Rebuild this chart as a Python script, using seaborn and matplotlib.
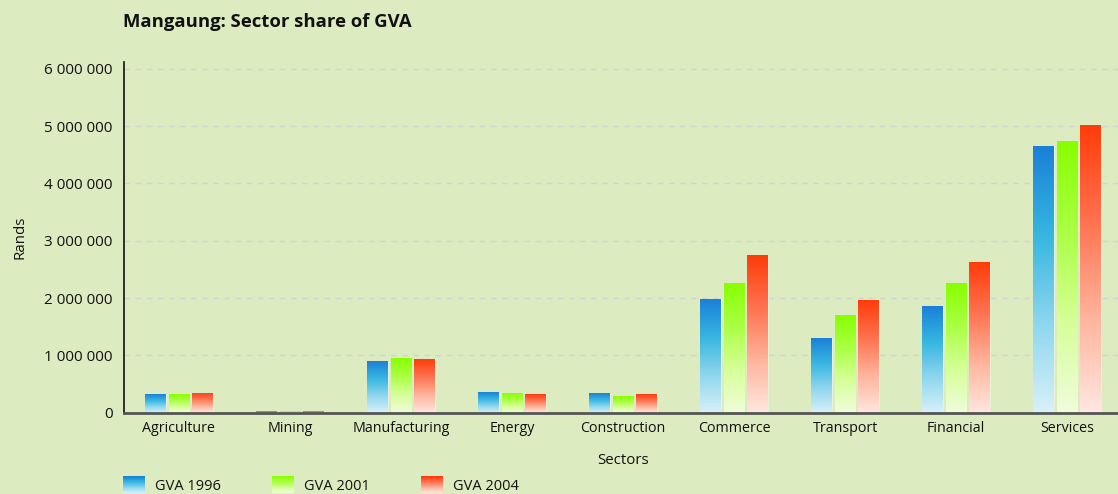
import numpy as np
import pandas as pd
import matplotlib
matplotlib.use("Agg")
import matplotlib.pyplot as plt
import seaborn as sns
from matplotlib.colors import LinearSegmentedColormap, to_hex
from matplotlib.patches import Rectangle, Patch
from matplotlib.legend_handler import HandlerBase
from matplotlib.ticker import FuncFormatter

# ---------------- data ----------------
sectors = ["Agriculture", "Mining", "Manufacturing", "Energy", "Construction",
           "Commerce", "Transport", "Financial", "Services"]
series_names = ["GVA 1996", "GVA 2001", "GVA 2004"]
gva_1996 = [330000, 28000, 900000, 362000, 348000, 1980000, 1307000, 1860000, 4647000]
gva_2001 = [330000, 22000, 957000, 344000, 290000, 2255000, 1707000, 2260000, 4735000]
gva_2004 = [350000, 25000, 940000, 327000, 325000, 2755000, 1958000, 2625000, 5013000]
y_ticks = [0, 1000000, 2000000, 3000000, 4000000, 5000000, 6000000]

title = "Mangaung: Sector share of GVA"
x_label = "Sectors"
y_label = "Rands"

# ---------------- style ----------------
BG = "#ddebc0"
base_colors = ["#1b80d8", "#88ff00", "#ff3c0a"]
gradients = [
    LinearSegmentedColormap.from_list("b", ["#d8f1f9", "#8fd6ee", "#36b6e0", "#1b80d8"]),
    LinearSegmentedColormap.from_list("g", ["#f0fcdc", "#d6ff98", "#aaff44", "#88ff00"]),
    LinearSegmentedColormap.from_list("r", ["#ffe7df", "#ffb49c", "#ff7250", "#ff3c0a"]),
]

sns.set_theme(style="white")
plt.rcParams["font.family"] = ["Open Sans", "DejaVu Sans"]
plt.rcParams["text.color"] = "#111111"

df = pd.DataFrame({
    "Sector": sectors * 3,
    "Rands": gva_1996 + gva_2001 + gva_2004,
    "Series": [series_names[0]] * 9 + [series_names[1]] * 9 + [series_names[2]] * 9,
})

fig = plt.figure(figsize=(11.18, 4.94), dpi=100, facecolor=BG)
W, H = 1118, 494
ax = fig.add_axes([123.5 / W, (H - 412.7) / H, 999 / W, (412.7 - 62) / H])
ax.set_facecolor(BG)

sns.barplot(data=df, x="Sector", y="Rands", hue="Series", hue_order=series_names,
            order=sectors, palette=base_colors, saturation=1, width=0.63, gap=0.11,
            legend=False, ax=ax, zorder=3)

# gradient fill per bar
grad = np.linspace(0, 1, 256).reshape(-1, 1)
base_hex = [to_hex(c) for c in base_colors]
for p in list(ax.patches):
    fc = to_hex(p.get_facecolor())
    if fc not in base_hex:
        continue
    cmap = gradients[base_hex.index(fc)]
    x0, w = p.get_x(), p.get_width()
    h = p.get_height()
    im = ax.imshow(grad, cmap=cmap, extent=[x0, x0 + w, 0, h], origin="lower",
                   aspect="auto", zorder=3, interpolation="bilinear")
    im.set_clip_path(p)
    p.set_facecolor("none")
    p.set_edgecolor((1, 1, 1, 0.35))
    p.set_linewidth(0.8)

ax.set_xlim(-0.5, 8.5)
ax.set_ylim(0, 6.12e6)
ax.set_aspect("auto")

# axes styling
ax.set_yticks(y_ticks)
ax.yaxis.set_major_formatter(FuncFormatter(lambda v, _: f"{int(v):,}".replace(",", " ")))
ax.yaxis.grid(True, linestyle=(0, (4, 4)), color="#cdd6d6", linewidth=1, zorder=0)
ax.set_axisbelow(True)
for s in ["top", "right"]:
    ax.spines[s].set_visible(False)
ax.spines["left"].set_color("#111111")
ax.spines["left"].set_linewidth(1.2)
ax.spines["bottom"].set_color("#555555")
ax.spines["bottom"].set_linewidth(2)
ax.spines["bottom"].set_zorder(5)
ax.tick_params(axis="both", length=0, colors="#111111")
ax.tick_params(axis="y", pad=8, labelsize=11)
ax.tick_params(axis="x", pad=6, labelsize=10.3)
ax.set_xlabel(x_label, fontsize=10.8, labelpad=12, color="#111111")
ax.set_ylabel(y_label, fontsize=10.8, labelpad=12, color="#111111")

fig.text(123 / W, 1 - 22 / H, title, fontsize=13.3, fontweight="bold", va="center", ha="left")

# legend with gradient swatches
class GradHandler(HandlerBase):
    def __init__(self, cmap):
        super().__init__()
        self.cmap = cmap

    def create_artists(self, legend, orig_handle, xdescent, ydescent, width, height,
                       fontsize, trans):
        n = 24
        arts = []
        for i in range(n):
            r = Rectangle((-xdescent, -ydescent + i * height / n), width, height / n + 0.3,
                          facecolor=self.cmap(i / (n - 1)), linewidth=0, transform=trans)
            arts.append(r)
        return arts

handles = [Patch(label=n) for n in series_names]
hmap = {h: GradHandler(g) for h, g in zip(handles, gradients)}
fig.legend(handles=handles, labels=series_names, handler_map=hmap, ncol=3,
           loc="lower left", bbox_to_anchor=(119 / W, -4 / H), frameon=False,
           fontsize=10.5, handlelength=1.45, handleheight=1.45, handletextpad=0.7,
           columnspacing=3.55, borderaxespad=0, borderpad=0.3)

fig.savefig("out.png", dpi=100, facecolor=BG)
